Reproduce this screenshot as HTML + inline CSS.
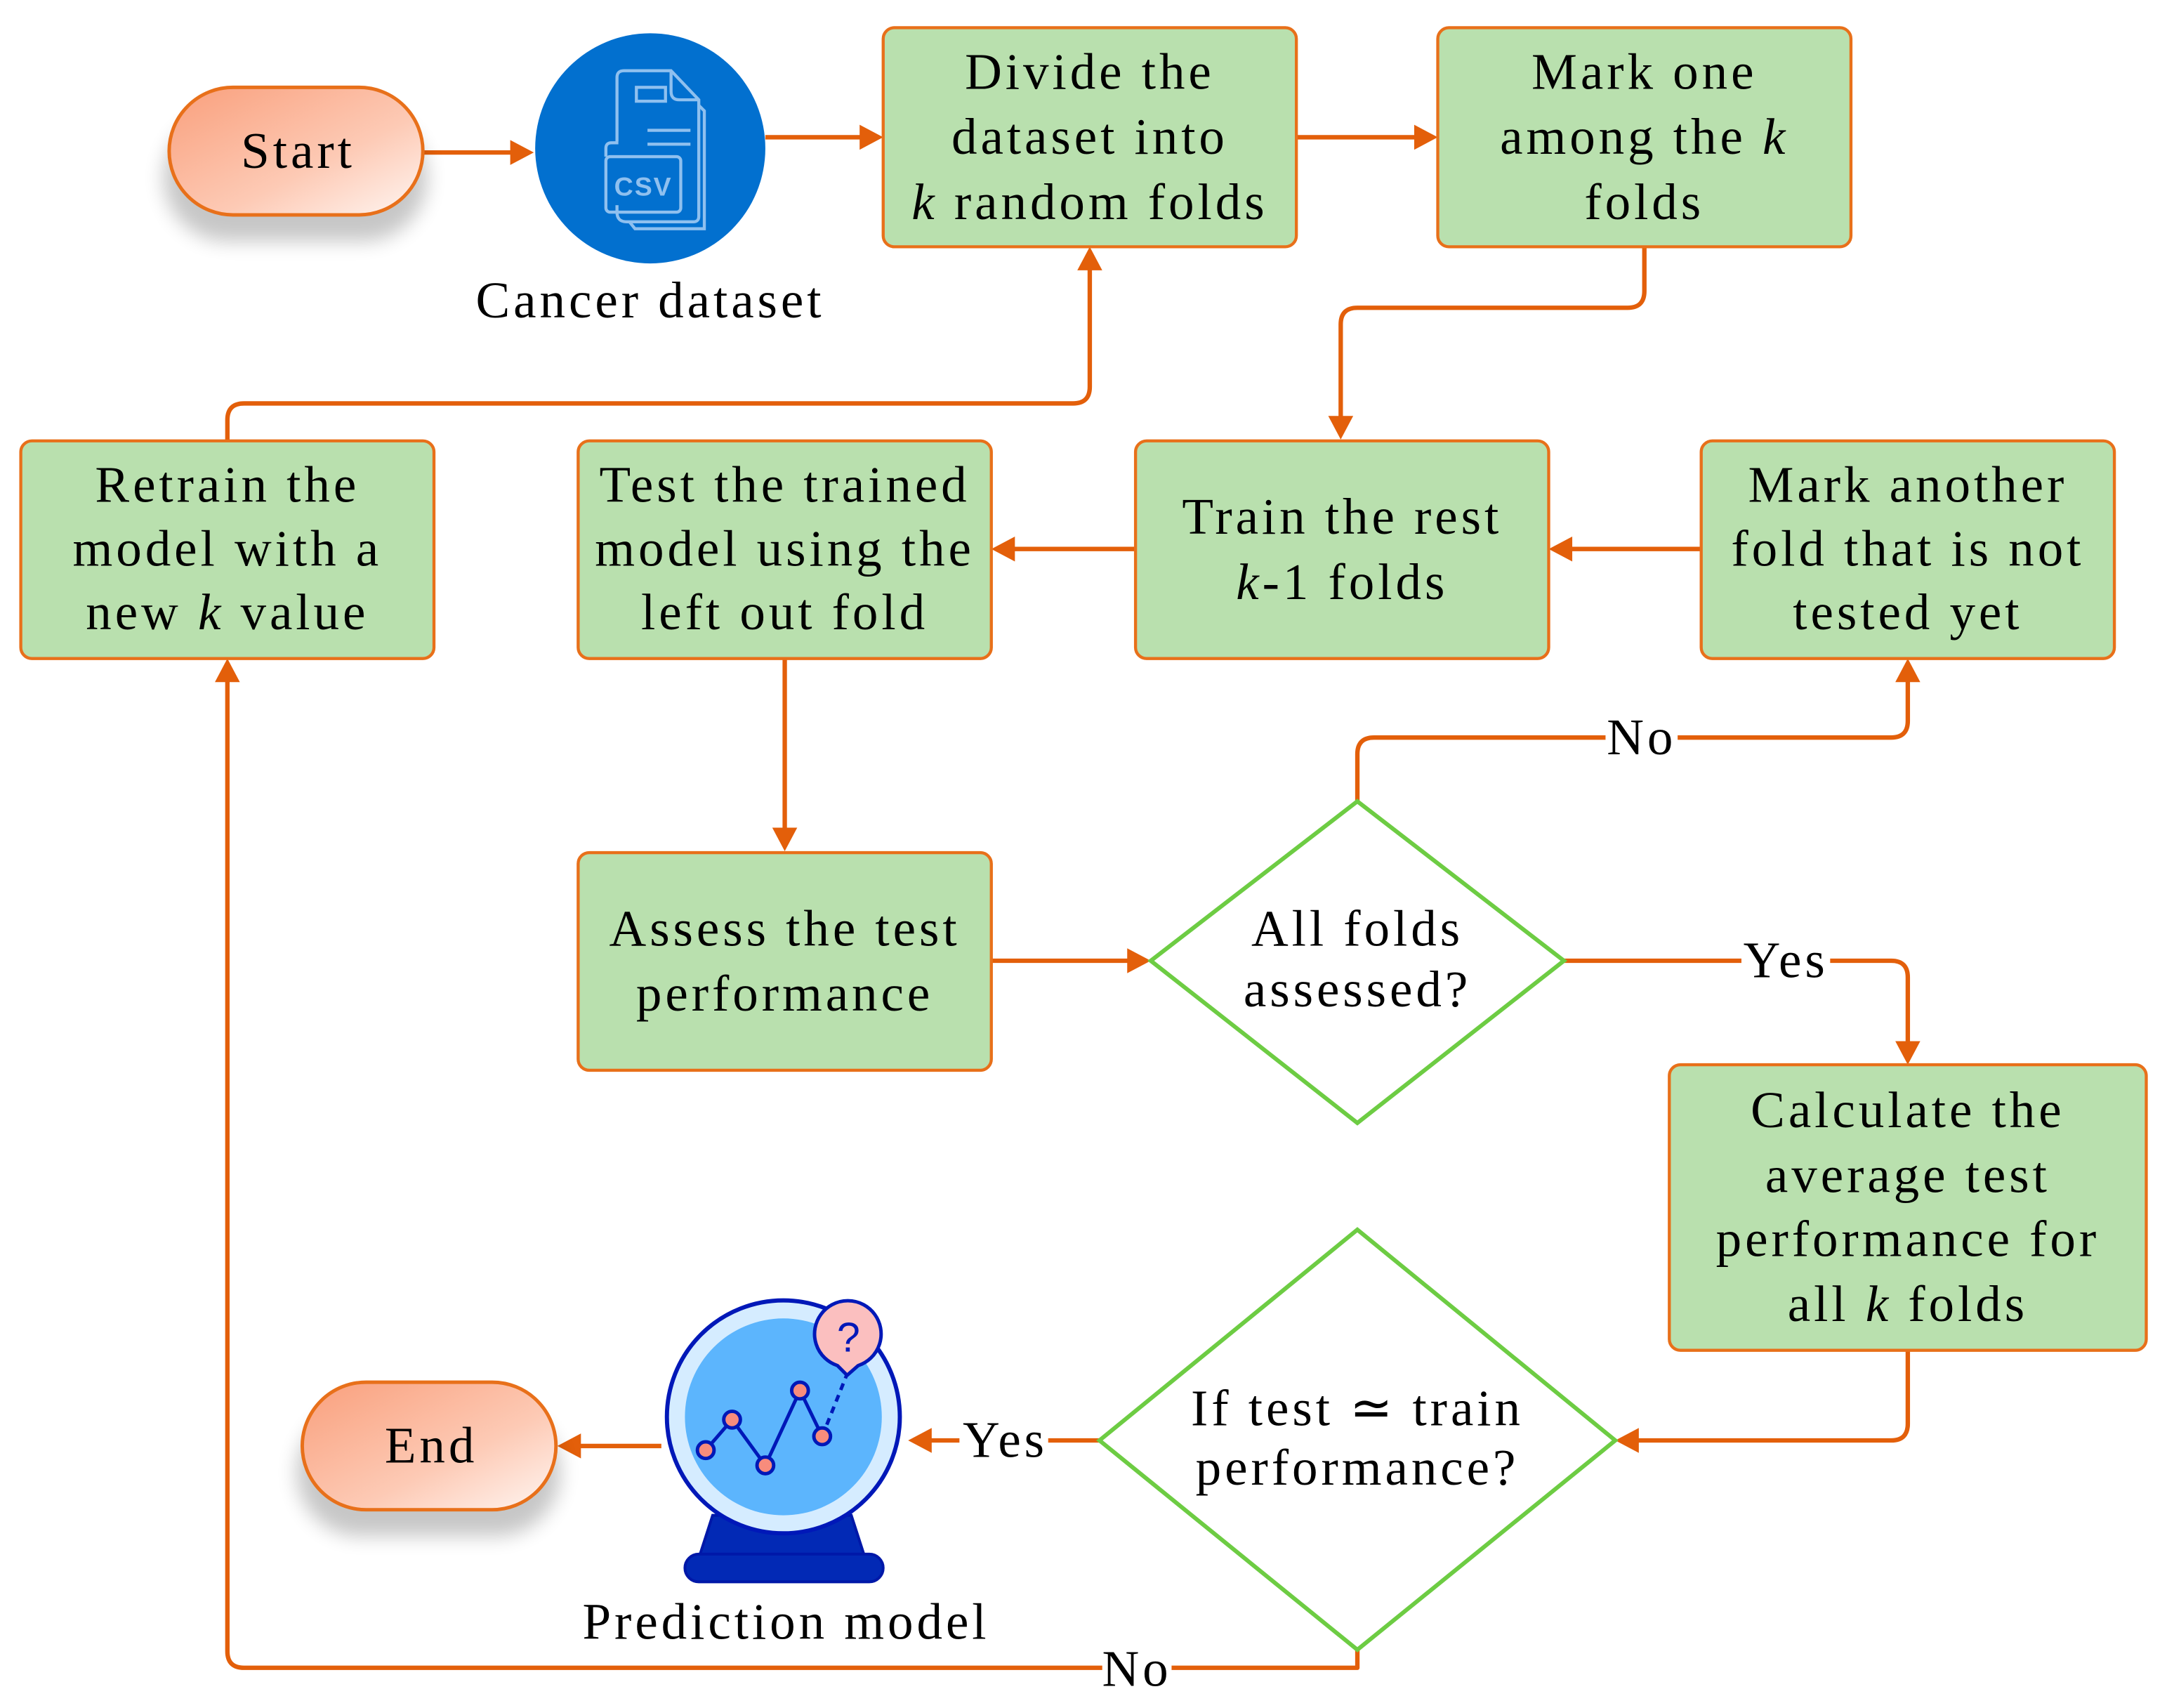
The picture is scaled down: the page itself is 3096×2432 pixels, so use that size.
<!DOCTYPE html>
<html><head><meta charset="utf-8"><style>
html,body{margin:0;padding:0;background:#fff;}
svg{display:block;}
text{font-family:"Liberation Serif",serif;font-size:37px;fill:#000;text-anchor:middle;letter-spacing:2.5px;}
</style></head><body>
<svg width="3096" height="2432" viewBox="0 0 1568 1232" preserveAspectRatio="none" xmlns="http://www.w3.org/2000/svg">
<defs>
<linearGradient id="tg" x1="0" y1="0" x2="1" y2="1">
<stop offset="0" stop-color="#f99f7c"/><stop offset="0.6" stop-color="#fdcab5"/><stop offset="1" stop-color="#fff6f2"/>
</linearGradient>
<filter id="sh" x="-30%" y="-30%" width="160%" height="180%"><feGaussianBlur stdDeviation="7"/></filter>
</defs>
<g fill="none" stroke="#e35f0a" stroke-width="3.2" stroke-linejoin="round">
<path d="M305 110 H370"/>
<path d="M552 99 H622"/>
<path d="M935 99 H1022"/>
<path d="M1186 178 V210 Q1186 222 1174 222 H979 Q967 222 967 234 V302"/>
<path d="M1227 396 H1132"/>
<path d="M819 396 H730"/>
<path d="M164 318 V303 Q164 291 176 291 H774 Q786 291 786 279 V193"/>
<path d="M566 475 V599"/>
<path d="M715 693 H815"/>
<path d="M979 578 V544 Q979 532 991 532 H1364 Q1376 532 1376 520 V490"/>
<path d="M1128 693 H1364 Q1376 693 1376 705 V753"/>
<path d="M1376 974 V1027 Q1376 1039 1364 1039 H1180"/>
<path d="M793 1039 H670"/>
<path d="M477 1043 H417"/>
<path d="M979 1190 V1203 H176 Q164 1203 164 1191 V490"/>
</g>
<g fill="#e35f0a">
<polygon points="385,110 368,101 368,119"/>
<polygon points="637,99 620,90 620,108"/>
<polygon points="1037,99 1020,90 1020,108"/>
<polygon points="967,317 958,300 976,300"/>
<polygon points="1117,396 1134,387 1134,405"/>
<polygon points="715,396 732,387 732,405"/>
<polygon points="786,178 777,195 795,195"/>
<polygon points="566,614 557,597 575,597"/>
<polygon points="830,693 813,684 813,702"/>
<polygon points="1376,475 1367,492 1385,492"/>
<polygon points="1376,768 1367,751 1385,751"/>
<polygon points="1165,1039 1182,1030 1182,1048"/>
<polygon points="655,1039 672,1030 672,1048"/>
<polygon points="402,1043 419,1034 419,1052"/>
<polygon points="164,475 155,492 173,492"/>
</g>
<rect x="1158" y="514" width="52" height="36" fill="#fff"/>
<rect x="1256" y="675" width="64" height="36" fill="#fff"/>
<rect x="692" y="1021" width="64" height="36" fill="#fff"/>
<rect x="795" y="1186" width="50" height="36" fill="#fff"/>
<text x="1184" y="544">No</text>
<text x="1288" y="705">Yes</text>
<text x="725" y="1051">Yes</text>
<text x="820" y="1216">No</text>
<rect x="118" y="82" width="190" height="92" rx="46" fill="#000" opacity="0.22" filter="url(#sh)"/>
<rect x="122" y="63" width="183" height="92" rx="46" fill="url(#tg)" stroke="#e8701a" stroke-width="2.5"/>
<text x="215" y="121">Start</text>
<rect x="214" y="1016" width="190" height="92" rx="46" fill="#000" opacity="0.22" filter="url(#sh)"/>
<rect x="218" y="997" width="183" height="92" rx="46" fill="url(#tg)" stroke="#e8701a" stroke-width="2.5"/>
<text x="311" y="1055">End</text>
<circle cx="469" cy="107" r="83" fill="#0270cf"/>
<g fill="none" stroke="#8fc0ef" stroke-width="2.2">
<path d="M445 102 V56 Q445 51 450 51 H484 L504 72 V156 Q504 160 500 160 H452 Q445 160 445 153 V148"/>
<path d="M484 51 V66 Q484 72 490 72 H504"/>
<path d="M504 76 L508 80 V165 H486 M454 160 L458 165 H486"/>
<rect x="459" y="63" width="21" height="10"/>
<path d="M467 94 H498 M467 104 H498"/>
<rect x="437" y="113" width="54" height="40" rx="3"/>
<path d="M437 113 V107 Q437 103 441 103 H446"/>
</g>
<text x="464" y="141" style="font-family:'Liberation Sans',sans-serif;font-size:19px;fill:#8fc0ef;font-weight:bold;letter-spacing:1px">CSV</text>
<text x="469" y="229">Cancer dataset</text>
<g fill="#b9e0ae" stroke="#e8701a" stroke-width="2.2">
<rect x="637" y="20" width="298" height="158" rx="8"/>
<rect x="1037" y="20" width="298" height="158" rx="8"/>
<rect x="819" y="318" width="298" height="157" rx="8"/>
<rect x="1227" y="318" width="298" height="157" rx="8"/>
<rect x="417" y="318" width="298" height="157" rx="8"/>
<rect x="15" y="318" width="298" height="157" rx="8"/>
<rect x="417" y="615" width="298" height="157" rx="8"/>
<rect x="1204" y="768" width="344" height="206" rx="8"/>
</g>
<text x="786" y="64">Divide the</text>
<text x="786" y="111">dataset into</text>
<text x="786" y="158"><tspan font-style="italic">k</tspan> random folds</text>
<text x="1186" y="64">Mark one</text>
<text x="1186" y="111">among the <tspan font-style="italic">k</tspan></text>
<text x="1186" y="158">folds</text>
<text x="968" y="385">Train the rest</text>
<text x="968" y="432"><tspan font-style="italic">k</tspan>-1 folds</text>
<text x="1376" y="362">Mark another</text>
<text x="1376" y="408">fold that is not</text>
<text x="1376" y="454">tested yet</text>
<text x="566" y="362">Test the trained</text>
<text x="566" y="408">model using the</text>
<text x="566" y="454">left out fold</text>
<text x="164" y="362">Retrain the</text>
<text x="164" y="408">model with a</text>
<text x="164" y="454">new <tspan font-style="italic">k</tspan> value</text>
<text x="566" y="682">Assess the test</text>
<text x="566" y="729">performance</text>
<text x="1376" y="813">Calculate the</text>
<text x="1376" y="860">average test</text>
<text x="1376" y="906">performance for</text>
<text x="1376" y="953">all <tspan font-style="italic">k</tspan> folds</text>
<polygon points="979,578 1128,693 979,810 830,693" fill="#fff" stroke="#6dcc43" stroke-width="3"/>
<text x="979" y="682">All folds</text>
<text x="979" y="726">assessed?</text>
<polygon points="979,887 1165,1039 979,1190 793,1039" fill="#fff" stroke="#6dcc43" stroke-width="3"/>
<text x="979" y="1028">If test ≃ train</text>
<text x="979" y="1071">performance?</text>
<path d="M514 1093 H614 L624 1124 H504 Z" fill="#0229b5" stroke="#0018a8" stroke-width="2"/>
<rect x="494" y="1121" width="143" height="20" rx="10" fill="#0229b5" stroke="#0018a8" stroke-width="2"/>
<circle cx="565" cy="1022" r="84" fill="#d5ecff" stroke="#0018b8" stroke-width="3"/>
<circle cx="565" cy="1022" r="71" fill="#5cb5fd"/>
<path d="M509 1046 L528 1024 L552 1057 L577 1003 L593 1036" fill="none" stroke="#0018b8" stroke-width="2.5"/>
<path d="M593 1036 L611 991" fill="none" stroke="#0018b8" stroke-width="2.5" stroke-dasharray="5,4"/>
<g fill="#f88c7c" stroke="#0018b8" stroke-width="2.5">
<circle cx="509" cy="1046" r="6"/><circle cx="528" cy="1024" r="6"/><circle cx="552" cy="1057" r="6"/><circle cx="577" cy="1003" r="6"/><circle cx="593" cy="1036" r="6"/>
</g>
<path d="M604 985 A24 24 0 1 1 619 985 L611 992 Z" fill="#fbbfbf" stroke="#0018b8" stroke-width="2.5" stroke-linejoin="round"/>
<text x="612" y="975" style="font-family:'Liberation Sans',sans-serif;font-size:30px;fill:#0018b8;letter-spacing:0">?</text>
<text x="567" y="1182">Prediction model</text>
</svg>
</body></html>
